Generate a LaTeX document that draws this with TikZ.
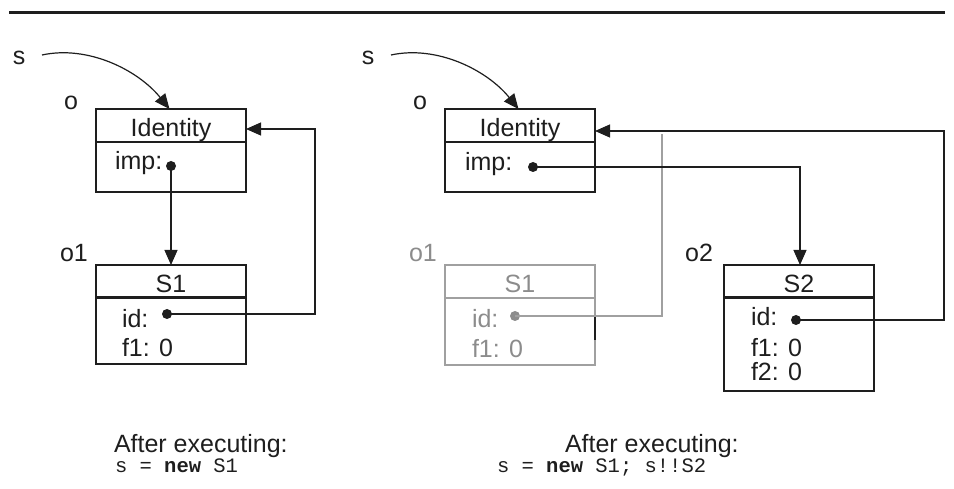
\documentclass[tikz,border=0pt]{standalone}
\usepackage{fontspec}
\setmainfont{Liberation Sans}
\setmonofont{Liberation Mono}
\usetikzlibrary{arrows.meta}
\definecolor{ghostline}{HTML}{A0A0A0}
\definecolor{ghosttext}{HTML}{8C8C8C}
\definecolor{ink}{HTML}{1E1E1E}
\begin{document}
\begin{tikzpicture}[x=1pt,y=-1pt,
  txt/.style={font=\fontsize{25}{29}\selectfont, inner sep=0pt, outer sep=0pt, text=ink},
  code/.style={font=\fontsize{20.5}{24}\selectfont\ttfamily, inner sep=0pt, outer sep=0pt, anchor=base west, text=ink},
  hdr/.style={draw=ink, line width=1.4pt, minimum width=150pt, minimum height=33pt,
    text height=28pt, text depth=5pt, inner sep=0pt, outer sep=0pt, anchor=north west,
    font=\fontsize{25}{29}\selectfont, text=ink},
  bodybox/.style={draw=ink, line width=1.4pt, minimum width=150pt, inner sep=0pt, outer sep=0pt, anchor=north west},
  dot/.style={circle, fill=ink, inner sep=0pt, minimum size=10pt},
  conn/.style={draw=ink, line width=1.2pt},
  tip/.style={-{Triangle[length=15pt,width=13pt]}},
  ghost/.style={draw=ghostline, text=ghosttext},
]
\useasboundingbox (0,0) rectangle (954,489);

% top rule
\coordinate (ruleL) at (9,13);
\coordinate (ruleR) at (945,13);
\draw[draw=ink, line width=3pt] (ruleL) -- (ruleR);

% ================= left diagram =================
\node[txt] (sA) at (19,58) {s};
\node[txt] (oA) at (71,103) {o};
\node[txt] (o1A) at (74,253) {o1};

\node[hdr] (idA) at (96,109) {Identity};
\node[bodybox, minimum height=50pt] (idAb) at (96,142) {};
\node[txt, anchor=base west] (impA) at (115,170) {imp:};
\node[dot] (dA) at (171,166) {};

\node[hdr, minimum height=32pt] (s1A) at (96,265) {S1};
\node[bodybox, minimum height=67pt] (s1Ab) at (96,297) {};
\node[txt, anchor=base west] (idfA) at (122,327) {id:};
\node[txt, anchor=base west] (f1A) at (122,356) {f1: 0};
\node[dot] (dB) at (167,314) {};

\coordinate (sAstart) at (42,55);
\draw[conn, tip] (sAstart) .. controls (88,45) and (138,70) .. ([xshift=-1.5pt]idA.north);
\draw[conn, tip] (dA.center) -- (dA.center |- s1A.north);
\coordinate (bA1) at (315,314);
\coordinate (bA2) at (315,129);
\draw[conn, tip] (dB.center) -- (bA1) -- (bA2) -- (bA2 -| idA.east);

\node[txt, anchor=base west] (aftA) at (114,452) {After executing:};
\node[code] (codeA) at (115,472) {s = \textbf{new} S1};

% ================= right diagram =================
\node[txt] (sB) at (368,58) {s};
\node[txt] (oB) at (420,103) {o};
\node[txt, text=ghosttext] (o1B) at (423,253) {o1};
\node[txt] (o2B) at (699,253) {o2};

\node[hdr] (idB) at (445,109) {Identity};
\node[bodybox, minimum height=50pt] (idBb) at (445,142) {};
\node[txt, anchor=base west] (impB) at (465,171) {imp:};
\node[dot] (dC) at (533,167) {};

% ghost S1
\node[hdr, ghost, minimum height=33pt] (s1B) at (445,265) {S1};
\node[bodybox, ghost, minimum height=67pt] (s1Bb) at (445,298) {};
\node[txt, anchor=base west, text=ghosttext] (idfB) at (472,328) {id:};
\node[txt, anchor=base west, text=ghosttext] (f1B) at (472,357) {f1: 0};
\node[dot, fill=ghosttext] (dD) at (515,316) {};
\coordinate (glitchT) at (595,315);
\coordinate (glitchB) at (595,340);
\draw[draw=ink, line width=1.2pt] (glitchT) -- (glitchB);

% S2
\node[hdr, minimum height=32pt] (s2B) at (724,265) {S2};
\node[bodybox, minimum height=94pt] (s2Bb) at (724,297) {};
\node[txt, anchor=base west] (idfC) at (751,326) {id:};
\node[txt, anchor=base west] (f1C) at (751,356) {f1: 0};
\node[txt, anchor=base west] (f2C) at (751,381) {f2: 0};
\node[dot] (dE) at (796,320) {};

\coordinate (sBstart) at (391,55);
\draw[conn, tip] (sBstart) .. controls (437,45) and (487,70) .. ([xshift=-1.5pt]idB.north);

% ghost link
\coordinate (gB1) at (662,316);
\coordinate (gB2) at (662,134);
\draw[draw=ghostline, line width=1.1pt] (dD.center) -- (gB1) -- (gB2);

% imp -> S2
\coordinate (bC1) at (800,167);
\draw[conn, tip] (dC.center) -- (bC1) -- (bC1 |- s2B.north);

% S2 id -> Identity
\coordinate (bE1) at (944,320);
\coordinate (bE2) at (944,131);
\draw[conn, tip] (dE.center) -- (bE1) -- (bE2) -- (bE2 -| idB.east);

\node[txt, anchor=base west] (aftB) at (565,452) {After executing:};
\node[code] (codeB) at (497,472) {s = \textbf{new} S1; s!!S2};
\end{tikzpicture}
\end{document}
